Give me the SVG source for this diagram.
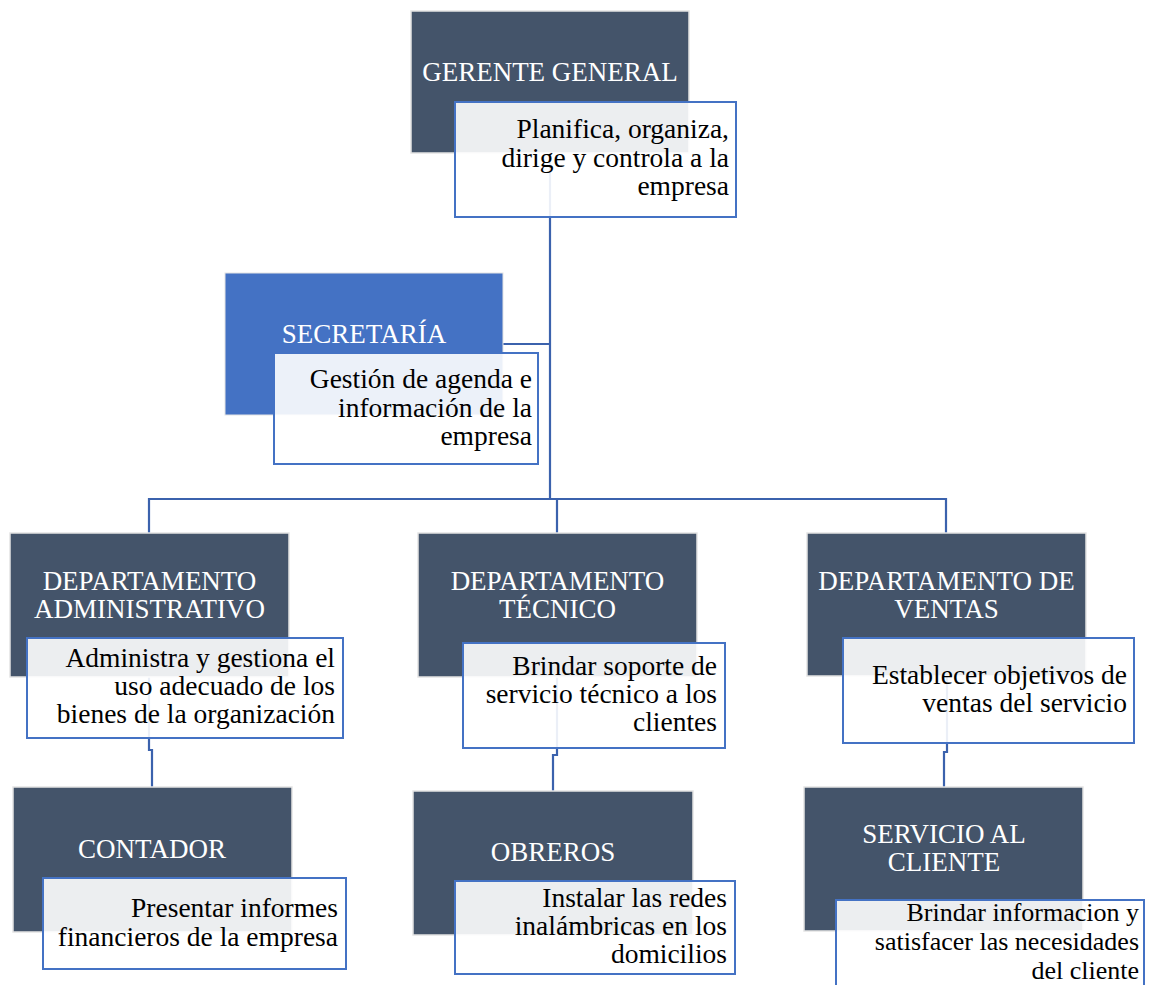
<svg xmlns="http://www.w3.org/2000/svg" width="1151" height="985" viewBox="0 0 1151 985">
<style>
.box{fill:#44546a;stroke:#e4e4e4;stroke-width:1.5}
.sec{fill:#4472c4;stroke:#e4e4e4;stroke-width:1}
.desc{fill:#ffffff;fill-opacity:0.9;stroke:#4472c4;stroke-width:2}
.t{font-family:"Liberation Serif","Times New Roman",serif;font-size:27px;fill:#ffffff;text-anchor:middle}
.d{font-family:"Liberation Serif","Times New Roman",serif;font-size:27.5px;fill:#000000;text-anchor:end}
.ds{font-size:26px}
.c{fill:none;stroke:#3b62ad;stroke-width:2.2}
</style>
<rect width="1151" height="985" fill="#ffffff"/>
<g id="connectors">
<path class="c" d="M550,153 V499"/>
<path class="c" d="M503,344 H550"/>
<path class="c" d="M149,533 V499 H946 V533"/>
<path class="c" d="M557,499 V533"/>
<path class="c" d="M149,677 V750 H152 V787"/>
<path class="c" d="M557,677 V755 H553 V791"/>
<path class="c" d="M947,676 V752 H944 V787"/>
</g>
<g id="gerente">
<rect class="box" x="411" y="11" width="278" height="142"/>
<text class="t" x="550" y="81">GERENTE GENERAL</text>
<rect class="desc" x="455" y="102" width="281" height="115"/>
<text class="d" x="729" y="138">Planifica, organiza,</text>
<text class="d" x="729" y="167">dirige y controla a la</text>
<text class="d" x="729" y="195">empresa</text>
</g>
<g id="secretaria">
<rect class="sec" x="225" y="273" width="278" height="142"/>
<text class="t" x="364" y="343">SECRETARÍA</text>
<rect class="desc" x="274" y="353" width="264" height="111"/>
<text class="d" x="532" y="388">Gestión de agenda e</text>
<text class="d" x="532" y="417">información de la</text>
<text class="d" x="532" y="445">empresa</text>
</g>
<g id="dep-administrativo">
<rect class="box" x="10" y="533" width="279" height="144"/>
<text class="t" x="149.5" y="590">DEPARTAMENTO</text>
<text class="t" x="149.5" y="618">ADMINISTRATIVO</text>
<rect class="desc" x="27" y="638" width="316" height="100"/>
<text class="d" x="335" y="667">Administra y gestiona el</text>
<text class="d" x="335" y="695">uso adecuado de los</text>
<text class="d" x="335" y="723">bienes de la organización</text>
</g>
<g id="dep-tecnico">
<rect class="box" x="418" y="533" width="279" height="144"/>
<text class="t" x="557.5" y="590">DEPARTAMENTO</text>
<text class="t" x="557.5" y="618">TÉCNICO</text>
<rect class="desc" x="463" y="643" width="262" height="105"/>
<text class="d" x="717" y="675">Brindar soporte de</text>
<text class="d" x="717" y="703">servicio técnico a los</text>
<text class="d" x="717" y="731">clientes</text>
</g>
<g id="dep-ventas">
<rect class="box" x="807" y="533" width="279" height="143"/>
<text class="t" x="946.5" y="590">DEPARTAMENTO DE</text>
<text class="t" x="946.5" y="618">VENTAS</text>
<rect class="desc" x="843" y="638" width="291" height="105"/>
<text class="d" x="1127" y="684">Establecer objetivos de</text>
<text class="d" x="1127" y="712">ventas del servicio</text>
</g>
<g id="contador">
<rect class="box" x="13" y="787" width="279" height="145"/>
<text class="t" x="152" y="858">CONTADOR</text>
<rect class="desc" x="43" y="878" width="303" height="91"/>
<text class="d" x="338" y="917">Presentar informes</text>
<text class="d" x="338" y="946">financieros de la empresa</text>
</g>
<g id="obreros">
<rect class="box" x="413" y="791" width="280" height="144"/>
<text class="t" x="553" y="861">OBREROS</text>
<rect class="desc" x="455" y="881" width="280" height="93"/>
<text class="d" x="727" y="907">Instalar las redes</text>
<text class="d" x="727" y="935">inalámbricas en los</text>
<text class="d" x="727" y="963">domicilios</text>
</g>
<g id="servicio-cliente">
<rect class="box" x="804" y="787" width="279" height="144"/>
<text class="t" x="944" y="843">SERVICIO AL</text>
<text class="t" x="944" y="871">CLIENTE</text>
<rect class="desc" x="836" y="900" width="308" height="100"/>
<text class="d ds" x="1139" y="921">Brindar informacion y</text>
<text class="d ds" x="1139" y="950">satisfacer las necesidades</text>
<text class="d ds" x="1139" y="979">del cliente</text>
</g>
</svg>
